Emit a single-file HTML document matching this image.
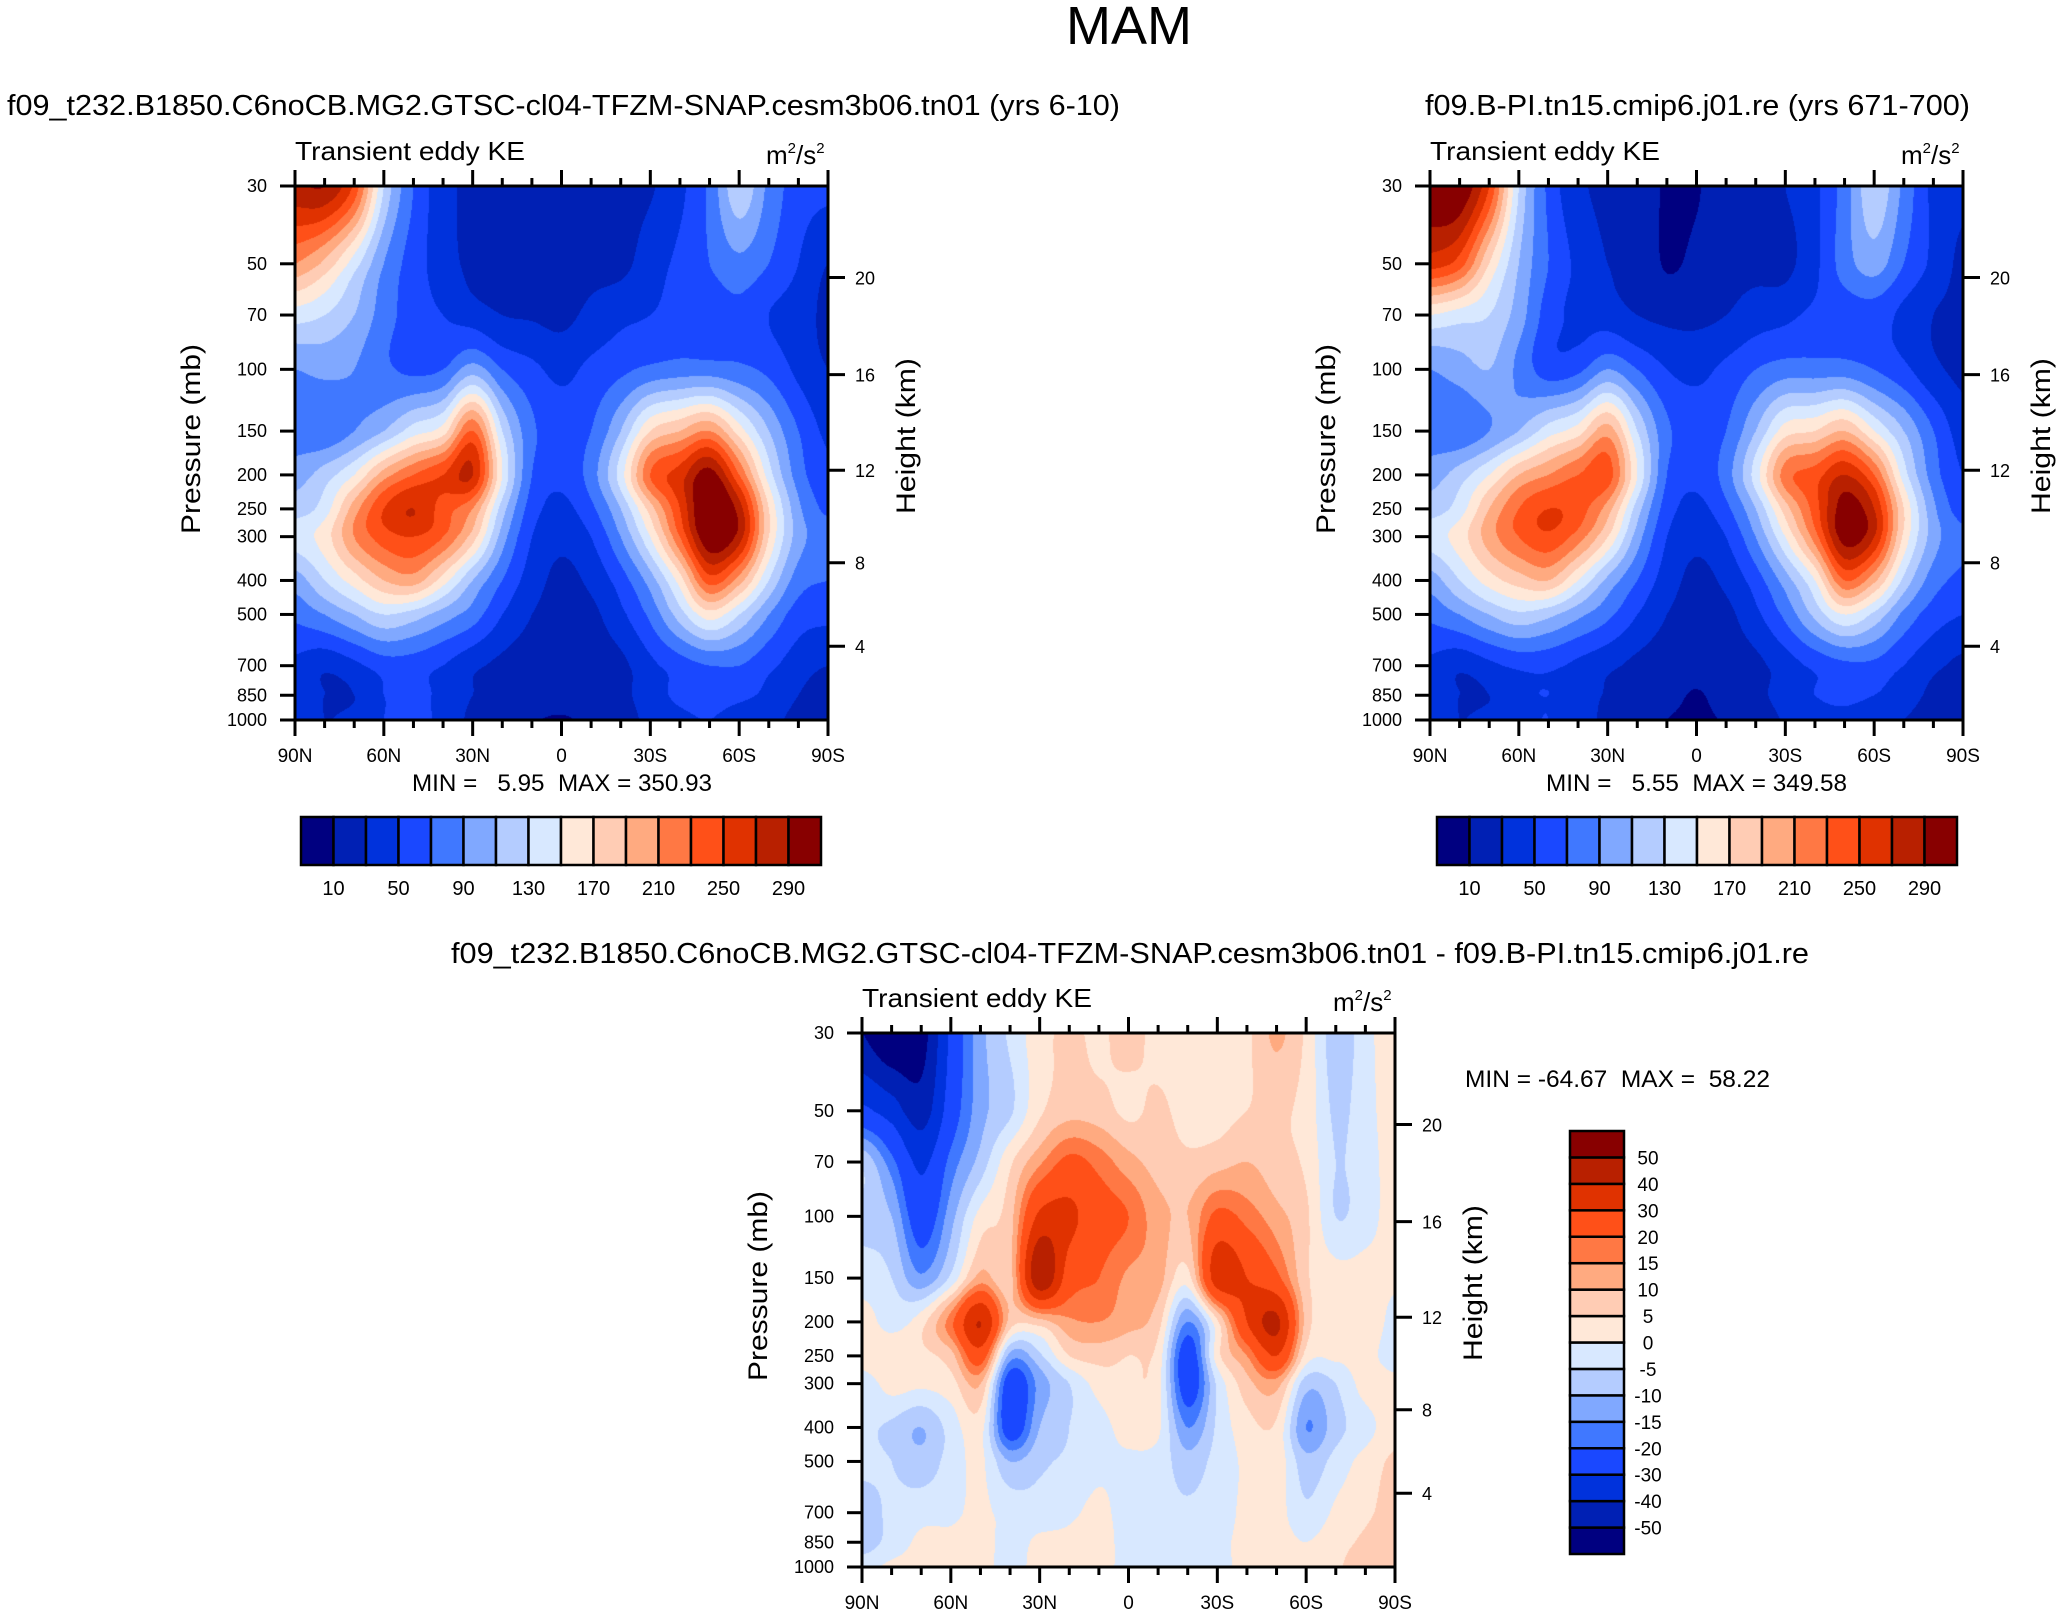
<!DOCTYPE html>
<html><head><meta charset="utf-8"><title>MAM Transient eddy KE</title>
<style>
html,body{margin:0;padding:0;background:#fff;}
#root{position:relative;width:2063px;height:1616px;overflow:hidden;font-family:"Liberation Sans",sans-serif;}
canvas{position:absolute;}
svg{position:absolute;left:0;top:0;}
text{font-family:"Liberation Sans",sans-serif;fill:#000;white-space:pre;}
</style></head>
<body>
<div id="root">
<canvas id="cvA" width="533" height="534" style="left:295px;top:186px"></canvas>
<canvas id="cvB" width="533" height="534" style="left:1430px;top:186px"></canvas>
<canvas id="cvC" width="533" height="534" style="left:862px;top:1033px"></canvas>
<svg id="ov" width="2063" height="1616">
<text x="1129" y="44" font-size="54" text-anchor="middle">MAM</text>
<text x="7" y="115" font-size="29" textLength="1113" lengthAdjust="spacingAndGlyphs">f09_t232.B1850.C6noCB.MG2.GTSC-cl04-TFZM-SNAP.cesm3b06.tn01 (yrs 6-10)</text>
<text x="1425" y="115" font-size="29" textLength="545" lengthAdjust="spacingAndGlyphs">f09.B-PI.tn15.cmip6.j01.re (yrs 671-700)</text>
<text x="451" y="963" font-size="29" textLength="1358" lengthAdjust="spacingAndGlyphs">f09_t232.B1850.C6noCB.MG2.GTSC-cl04-TFZM-SNAP.cesm3b06.tn01 - f09.B-PI.tn15.cmip6.j01.re</text>
<text x="412" y="791" font-size="24" textLength="300" lengthAdjust="spacingAndGlyphs" xml:space="preserve">MIN =   5.95  MAX = 350.93</text>
<text x="1546" y="791" font-size="24" textLength="301" lengthAdjust="spacingAndGlyphs" xml:space="preserve">MIN =   5.55  MAX = 349.58</text>
<text x="1465" y="1087" font-size="24" textLength="305" lengthAdjust="spacingAndGlyphs" xml:space="preserve">MIN = -64.67  MAX =  58.22</text>
</svg>
</div>
<script>
const LATS=[90,80,70,60,50,40,30,20,10,0,-10,-20,-30,-40,-50,-60,-70,-80,-90];
const PLEVS=[30,50,70,100,150,200,250,300,400,500,700,850,1000];
const LAT_TICKS=[90,60,30,0,-30,-60,-90];
const LAT_TICK_LABELS=["90N","60N","30N","0","30S","60S","90S"];
const HEIGHT_KM=[4,8,12,16,20];
const HEIGHT_P=[616,356,193.9,103.5,54.7];
const KE_BOUNDS=[10,30,50,70,90,110,130,150,170,190,210,230,250,270,290];
const KE_LABELS=["10","50","90","130","170","210","250","290"];
const DIFF_BOUNDS=[-50,-40,-30,-20,-15,-10,-5,0,5,10,15,20,30,40,50];
const DIFF_LABELS=["-50","-40","-30","-20","-15","-10","-5","0","5","10","15","20","30","40","50"];
const PALETTE=["#000080","#0020b4","#0032dc","#1a48ff","#4078ff","#80a8ff","#b4ccff","#d8e8ff","#ffe8d8","#ffccb4","#ffaa80","#ff7844","#ff5018","#e03200","#b82000","#880000"];

const KE_MODEL=[
[285,290,245,130,70,38,25,25,25,25,25,25,28,45,75,125,85,60,55],
[210,185,140,90,60,40,25,25,25,25,25,25,40,55,70,85,70,50,30],
[140,130,110,80,60,50,40,30,28,25,35,45,50,60,60,65,50,40,25],
[90,95,90,75,65,70,100,70,55,45,55,65,75,80,80,75,65,45,30],
[80,75,90,110,140,160,230,130,75,60,70,110,170,190,210,160,110,70,45],
[100,120,150,200,230,250,270,150,70,55,80,140,230,260,300,230,140,80,55],
[120,140,200,250,270,240,210,120,60,45,65,110,180,250,320,280,170,95,65],
[140,160,210,240,250,230,180,100,50,35,50,90,150,230,310,280,170,100,80],
[100,130,160,190,200,160,110,70,40,25,35,60,100,160,240,200,130,80,70],
[75,90,110,130,120,100,80,50,30,22,25,45,75,120,160,130,90,60,55],
[45,35,45,60,60,50,35,25,20,20,20,25,45,60,70,70,55,40,30],
[40,30,30,50,55,45,30,22,20,20,20,25,40,55,60,55,45,30,20],
[40,30,35,50,55,45,25,20,12,8,15,22,35,45,50,40,35,25,20]];

const KE_CONTROL=[
[310,310,250,130,65,35,25,20,8,8,25,25,30,45,80,125,85,45,35],
[260,240,170,110,70,45,30,25,8,15,25,25,25,45,80,100,70,45,25],
[150,140,130,100,60,45,40,30,25,25,30,40,45,55,60,60,45,30,25],
[90,100,110,85,60,65,90,70,50,45,55,70,80,80,80,70,55,35,25],
[80,75,90,110,140,160,200,130,75,60,70,110,160,170,190,150,110,70,40],
[100,120,150,190,210,230,240,150,70,55,80,140,220,240,270,230,140,80,50],
[120,140,190,230,250,240,200,120,60,45,65,110,180,240,300,270,170,95,60],
[140,160,200,230,245,220,170,100,50,35,50,90,150,220,300,270,165,100,75],
[100,130,160,180,190,150,105,70,40,25,35,60,100,150,230,195,125,80,65],
[75,90,110,125,115,95,75,50,30,22,25,45,75,115,150,125,85,60,50],
[45,35,45,55,55,45,35,25,20,20,20,25,40,55,65,65,50,35,25],
[40,30,30,45,50,40,28,22,18,8,20,25,38,50,55,50,40,25,18],
[40,30,35,45,50,40,25,20,10,6,12,20,32,42,45,38,30,22,18]];

const KE_DIFF=[
[-50,-60,-55,-28,-12,-4,3,6,4,7,3,2,2,4,11,4,-8,-2,4],
[-28,-35,-45,-25,-12,-6,4,8,7,4,6,3,3,5,6,3,-6,-2,3],
[-6,-18,-32,-18,-8,4,14,22,18,12,8,6,8,10,7,4,-5,-2,2],
[-6,-10,-25,-12,2,8,32,32,24,20,12,10,22,18,12,6,-5,-2,2],
[-3,-5,-14,-4,12,8,48,25,20,14,12,3,35,30,22,6,2,2,1],
[3,-2,3,18,40,8,8,14,15,12,7,-15,4,30,42,8,2,4,-2],
[3,4,4,8,25,-12,-6,5,7,5,3,-25,3,15,30,3,1,2,-3],
[-3,2,1,3,10,-25,-13,-5,2,4,2,-25,-4,8,12,-8,-5,2,2],
[-4,-6,-10,-3,2,-25,-10,-5,-2,2,1,-15,-4,3,4,-15,-7,-2,3],
[-4,-5,-8,-3,1,-10,-6,-4,-1,-1,-2,-8,-3,1,3,-8,-3,2,6],
[-7,-4,-2,-1,1,-2,-3,-1,1,-2,-3,-4,-2,1,2,-4,1,4,7],
[-8,-3,1,1,2,-2,1,1,2,-2,-3,-3,-1,1,2,0,3,6,8],
[-2,1,1,1,1,-1,1,1,1,-1,-2,-2,-1,1,2,1,4,8,6]];

const NS="http://www.w3.org/2000/svg";
const ov=document.getElementById('ov');
const W=533,H=534;
const LN30=Math.log(30),LNR=Math.log(1000/30);

function hex(c){return [parseInt(c.substr(1,2),16),parseInt(c.substr(3,2),16),parseInt(c.substr(5,2),16)];}
const RGB=PALETTE.map(hex);
function cr(a,b,c,d,t){return b+0.5*t*(c-a+t*(2*a-5*b+4*c-d+t*(3*(b-c)+d-a)));}
function sample(field,r,c){
  r=Math.max(0,Math.min(field.length-1,r));c=Math.max(0,Math.min(field[0].length-1,c));return field[r][c];}
function valueAt(field,fi,fj){
  const i=Math.floor(fi),t=fi-i,j=Math.floor(fj),u=fj-j;
  const rows=[];
  for(let k=-1;k<=2;k++){
    rows.push(cr(sample(field,i+k,j-1),sample(field,i+k,j),sample(field,i+k,j+1),sample(field,i+k,j+2),u));
  }
  return cr(rows[0],rows[1],rows[2],rows[3],t);
}
function drawField(id,field,bounds){
  const cv=document.getElementById(id);const ctx=cv.getContext('2d');
  const img=ctx.createImageData(W,H);
  const lp=PLEVS.map(p=>Math.log(p));
  for(let py=0;py<H;py++){
    const l=LN30+LNR*(py+0.5)/H;
    let i=0;while(i<lp.length-2&&l>lp[i+1])i++;
    const fi=i+(l-lp[i])/(lp[i+1]-lp[i]);
    for(let px=0;px<W;px++){
      const lat=90-180*(px+0.5)/W;
      const fj=(LATS[0]-lat)/(LATS[0]-LATS[1]);
      const v=valueAt(field,fi,fj);
      let k=0;while(k<bounds.length&&v>=bounds[k])k++;
      const c=RGB[k];const o=(py*W+px)*4;
      img.data[o]=c[0];img.data[o+1]=c[1];img.data[o+2]=c[2];img.data[o+3]=255;
    }
  }
  ctx.putImageData(img,0,0);
}
drawField('cvA',KE_MODEL,KE_BOUNDS);
drawField('cvB',KE_CONTROL,KE_BOUNDS);
drawField('cvC',KE_DIFF,DIFF_BOUNDS);

function el(tag,attrs,txt){const e=document.createElementNS(NS,tag);for(const k in attrs)e.setAttribute(k,attrs[k]);if(txt!==undefined)e.textContent=txt;ov.appendChild(e);return e;}
function line(x1,y1,x2,y2,w){return el('line',{x1:x1,y1:y1,x2:x2,y2:y2,stroke:'#000','stroke-width':w});}

function axes(x0,y0,pre){
  const yOf=p=>y0+H*Math.log(p/30)/LNR;
  const xOf=lat=>x0+W*(90-lat)/180;
  const r=el('rect',{x:x0,y:y0,width:W,height:H,fill:'none',stroke:'#000','stroke-width':3});
  
  
  for(let lat=90;lat>=-90;lat-=10){
    const major=lat%30===0;const L=major?16:8;const x=xOf(lat);
    line(x,y0+H,x,y0+H+L,3);line(x,y0,x,y0-L,3);
  }
  LAT_TICKS.forEach((lat,k)=>{
    const t=el('text',{x:xOf(lat),y:y0+H+42,'font-size':19,'text-anchor':'middle'},LAT_TICK_LABELS[k]);
    
    
  });
  PLEVS.forEach(p=>{
    const y=yOf(p);line(x0-15,y,x0,y,3);
    const t=el('text',{x:x0-28,y:y+6,'font-size':18,'text-anchor':'end'},String(p));
    
    
  });
  HEIGHT_P.forEach((p,k)=>{
    const y=yOf(p);line(x0+W,y,x0+W+17,y,3);
    const t=el('text',{x:x0+W+27,y:y+7,'font-size':18},String(HEIGHT_KM[k]));
    
    
  });
  const yc=y0+H/2-14;
  const a=el('text',{x:0,y:0,'font-size':27,'text-anchor':'middle',transform:`translate(${x0-95},${yc}) rotate(-90)`,textLength:190,lengthAdjust:'spacingAndGlyphs'},'Pressure (mb)');
  
  
  const b=el('text',{x:0,y:0,'font-size':27,'text-anchor':'middle',transform:`translate(${x0+W+87},${yc-3}) rotate(-90)`,textLength:156,lengthAdjust:'spacingAndGlyphs'},'Height (km)');
  
  
  const s=el('text',{x:x0,y:y0-26,'font-size':26,textLength:230,lengthAdjust:'spacingAndGlyphs'},'Transient eddy KE');
  
  
  const u=el('text',{x:x0+W-62,y:y0-22,'font-size':26},'');
  u.innerHTML='m<tspan font-size="15" dy="-11">2</tspan><tspan dy="11">/s</tspan><tspan font-size="15" dy="-11">2</tspan>';
  
  
}
axes(295,186,'panel-a');
axes(1430,186,'panel-b');
axes(862,1033,'panel-c');

function hbar(x0,y0,w,h,pre){
  const bw=w/PALETTE.length;
  PALETTE.forEach((c,k)=>{
    const r=el('rect',{x:x0+k*bw,y:y0,width:bw,height:h,fill:c,stroke:'#000','stroke-width':2.5});
    
    
  });
  KE_LABELS.forEach((lab,k)=>{
    const t=el('text',{x:x0+(1+2*k)*bw,y:y0+h+30,'font-size':20,'text-anchor':'middle'},lab);
    
    
  });
}
hbar(301,817,520,48,'panel-a');
hbar(1437,817,520,48,'panel-b');

(function(){
  const x0=1570,y0=1131,w=54,h=423,n=PALETTE.length,bh=h/n;
  PALETTE.forEach((c,k)=>{
    const r=el('rect',{x:x0,y:y0+(n-1-k)*bh,width:w,height:bh,fill:c,stroke:'#000','stroke-width':2.5});
    
    
  });
  DIFF_LABELS.forEach((lab,k)=>{
    const t=el('text',{x:1648,y:y0+(n-1-k)*bh+7,'font-size':19,'text-anchor':'middle'},lab);
    
    
  });
})();
</script>
</body></html>
